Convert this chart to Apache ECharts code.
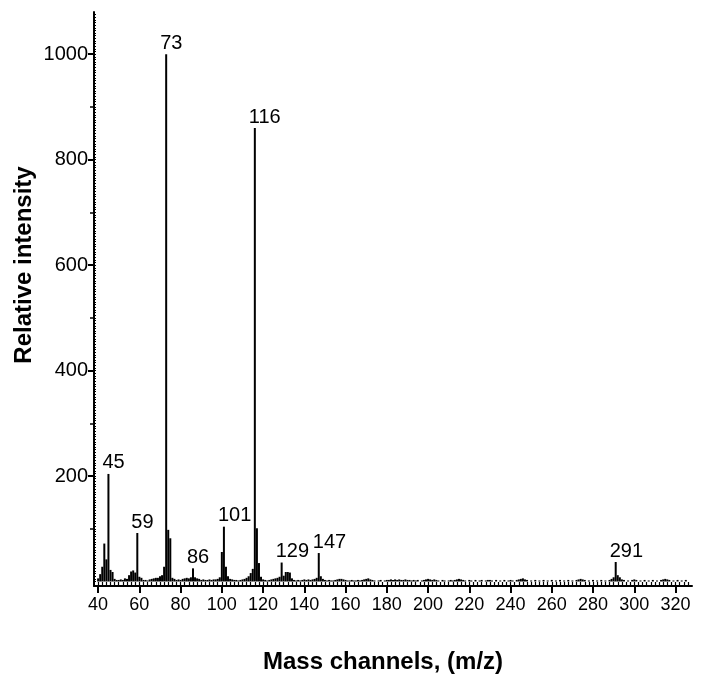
<!DOCTYPE html>
<html><head><meta charset="utf-8">
<script src="https://cdn.jsdelivr.net/npm/echarts@6/dist/echarts.min.js"></script>
<style>html,body{margin:0;padding:0;background:#fff}#c{width:702px;height:684px}</style>
</head><body><div id="c"></div>
<script>
// [m/z, relative intensity]
const spectrum = [
[40,6],[41,14],[42,28],[43,72],[44,42],[45,204],[46,22],[47,18],[48,5],[49,3],
[50,3],[51,4],[52,3],[53,6],[54,5],[55,12],[56,19],[57,21],[58,17],[59,92],
[60,9],[61,7],[62,3],[63,3],[64,2],[65,4],[66,5],[67,6],[68,7],[69,7],
[70,10],[71,12],[72,28],[73,1000],[74,98],[75,82],[76,7],[77,5],[78,3],[79,4],
[80,3],[81,5],[82,6],[83,7],[84,6],[85,8],[86,25],[87,8],[88,6],[89,5],
[90,3],[91,4],[92,3],[93,3],[94,4],[95,3],[96,4],[97,4],[98,5],[99,8],
[100,56],[101,104],[102,28],[103,10],[104,5],[105,4],[106,3],[107,3],[108,2],[109,3],
[110,4],[111,5],[112,7],[113,10],[114,16],[115,24],[116,860],[117,101],[118,35],[119,9],
[120,4],[121,3],[122,2],[123,3],[124,4],[125,5],[126,6],[127,7],[128,9],[129,36],
[130,11],[131,18],[132,18],[133,17],[134,6],[135,3],[136,2],[137,3],[138,2],[139,3],
[140,4],[141,3],[142,4],[143,3],[144,4],[145,5],[146,7],[147,54],[148,10],[149,5],
[150,3],[151,2],[152,3],[153,2],[154,2],[155,3],[156,4],[157,5],[158,5],[159,4],
[160,3],[161,2],[162,2],[163,3],[164,2],[165,2],[166,3],[167,2],[168,3],[169,4],
[170,5],[171,6],[172,4],[173,3],[174,2],[176,2],[177,3],[179,2],
[180,3],[181,3],[182,4],[183,3],[184,4],[185,3],[186,4],[187,3],[188,3],[189,4],
[190,3],[191,3],[192,2],[193,3],[194,2],[195,3],[197,2],[198,3],[199,4],
[200,5],[201,4],[202,3],[203,4],[204,3],[205,2],[207,3],[208,2],
[210,2],[211,3],[212,2],[213,3],[214,4],[215,5],[216,4],[217,3],[218,2],
[220,3],[221,2],[223,3],[225,2],[226,3],[228,2],[229,3],
[230,3],[231,2],[233,3],[235,2],[237,3],[239,2],
[240,3],[241,2],[243,3],[244,4],[245,5],[246,6],[247,4],[248,3],
[250,2],[252,3],[254,2],[256,3],[258,2],
[260,3],[262,2],[264,3],[266,2],[268,3],
[270,2],[272,3],[273,4],[274,5],[275,4],[276,3],[278,2],
[280,3],[282,2],[284,3],[286,2],[288,3],[289,5],
[290,8],[291,37],[292,12],[293,8],[294,4],[295,3],[297,2],[299,3],
[300,4],[301,3],[303,2],[305,3],[307,2],[309,3],
[311,2],[313,3],[314,4],[315,5],[316,4],[317,3],[319,2],
[321,3],[323,2],[325,3]
];
const labelledPeaks = [45, 59, 73, 86, 101, 116, 129, 147, 291];
const xTickLabels = [40, 60, 80, 100, 120, 140, 160, 180, 200, 220, 240, 260, 280, 300, 320];
const yTickLabels = [200, 400, 600, 800, 1000];
const xTitle = 'Mass channels, (m/z)';
const yTitle = 'Relative intensity';

const X_MIN = 38, X_MAX = 328, Y_MIN = -8.5, Y_MAX = 1080;
const FONT = '"Liberation Sans", Arial, Helvetica, sans-serif';

const xMinor = []; for (let v = 40; v <= 326; v += 2) xMinor.push(v);
const yMid = []; for (let v = 100; v <= 1000; v += 200) yMid.push(v);
const yMinor = []; for (let v = 0; v <= 1075; v += 5) yMinor.push(v);

const seriesData = spectrum.map(([mz, val]) => {
  if (labelledPeaks.includes(mz)) {
    return { value: [mz, val], label: { show: true, formatter: String(mz) } };
  }
  return { value: [mz, val] };
});

const hidden = { axisLine: { show: false }, axisLabel: { show: false }, splitLine: { show: false } };
const plain = v => String(v);

const chart = echarts.init(document.getElementById('c'), null, { renderer: 'canvas' });
chart.setOption({
  backgroundColor: '#ffffff',
  animation: false,
  grid: { left: 94, right: 10, top: 12, bottom: 98, containLabel: false },
  xAxis: [
    {
      type: 'value', min: X_MIN, max: X_MAX, position: 'bottom',
      axisLine: { show: true, onZero: false, lineStyle: { color: '#000', width: 2 } },
      axisTick: { show: true, inside: false, length: 7, customValues: xTickLabels, lineStyle: { color: '#000', width: 2 } },
      axisLabel: { show: true, customValues: xTickLabels, formatter: plain, margin: 10, color: '#000', fontSize: 18, fontFamily: FONT },
      splitLine: { show: false }
    },
    Object.assign({
      type: 'value', min: X_MIN, max: X_MAX, position: 'bottom',
      axisTick: { show: true, inside: true, length: 4, customValues: xMinor, lineStyle: { color: '#000', width: 1.2 } }
    }, hidden, { axisLine: { show: false, onZero: false } })
  ],
  yAxis: [
    {
      type: 'value', min: Y_MIN, max: Y_MAX, position: 'left',
      axisLine: { show: true, onZero: false, lineStyle: { color: '#000', width: 2 } },
      axisTick: { show: true, inside: false, length: 6, customValues: yTickLabels, lineStyle: { color: '#000', width: 2 } },
      axisLabel: { show: true, customValues: yTickLabels, formatter: plain, margin: 6, color: '#000', fontSize: 20, fontFamily: FONT },
      splitLine: { show: false }
    },
    Object.assign({
      type: 'value', min: Y_MIN, max: Y_MAX, position: 'left',
      axisTick: { show: true, inside: false, length: 4, customValues: yMid, lineStyle: { color: '#000', width: 1.5 } }
    }, hidden, { axisLine: { show: false, onZero: false } }),
    Object.assign({
      type: 'value', min: Y_MIN, max: Y_MAX, position: 'left',
      axisTick: { show: true, inside: true, length: 2, customValues: yMinor, lineStyle: { color: '#000', width: 1 } }
    }, hidden, { axisLine: { show: false, onZero: false } })
  ],
  series: [{
    type: 'bar', xAxisIndex: 0, yAxisIndex: 0,
    barWidth: 2,
    itemStyle: { color: '#000' },
    label: { show: false, position: 'top', distance: 1, align: 'left', offset: [-6, 0], color: '#000', fontSize: 20, fontFamily: FONT },
    data: seriesData
  }],
  graphic: [
    { type: 'text', x: 383, y: 662, style: { text: xTitle, fill: '#000', font: 'bold 24px ' + FONT, textAlign: 'center', textVerticalAlign: 'middle' } },
    { type: 'text', x: 24, y: 265, rotation: Math.PI / 2, style: { text: yTitle, fill: '#000', font: 'bold 24px ' + FONT, textAlign: 'center', textVerticalAlign: 'middle' } }
  ]
});
</script></body></html>
